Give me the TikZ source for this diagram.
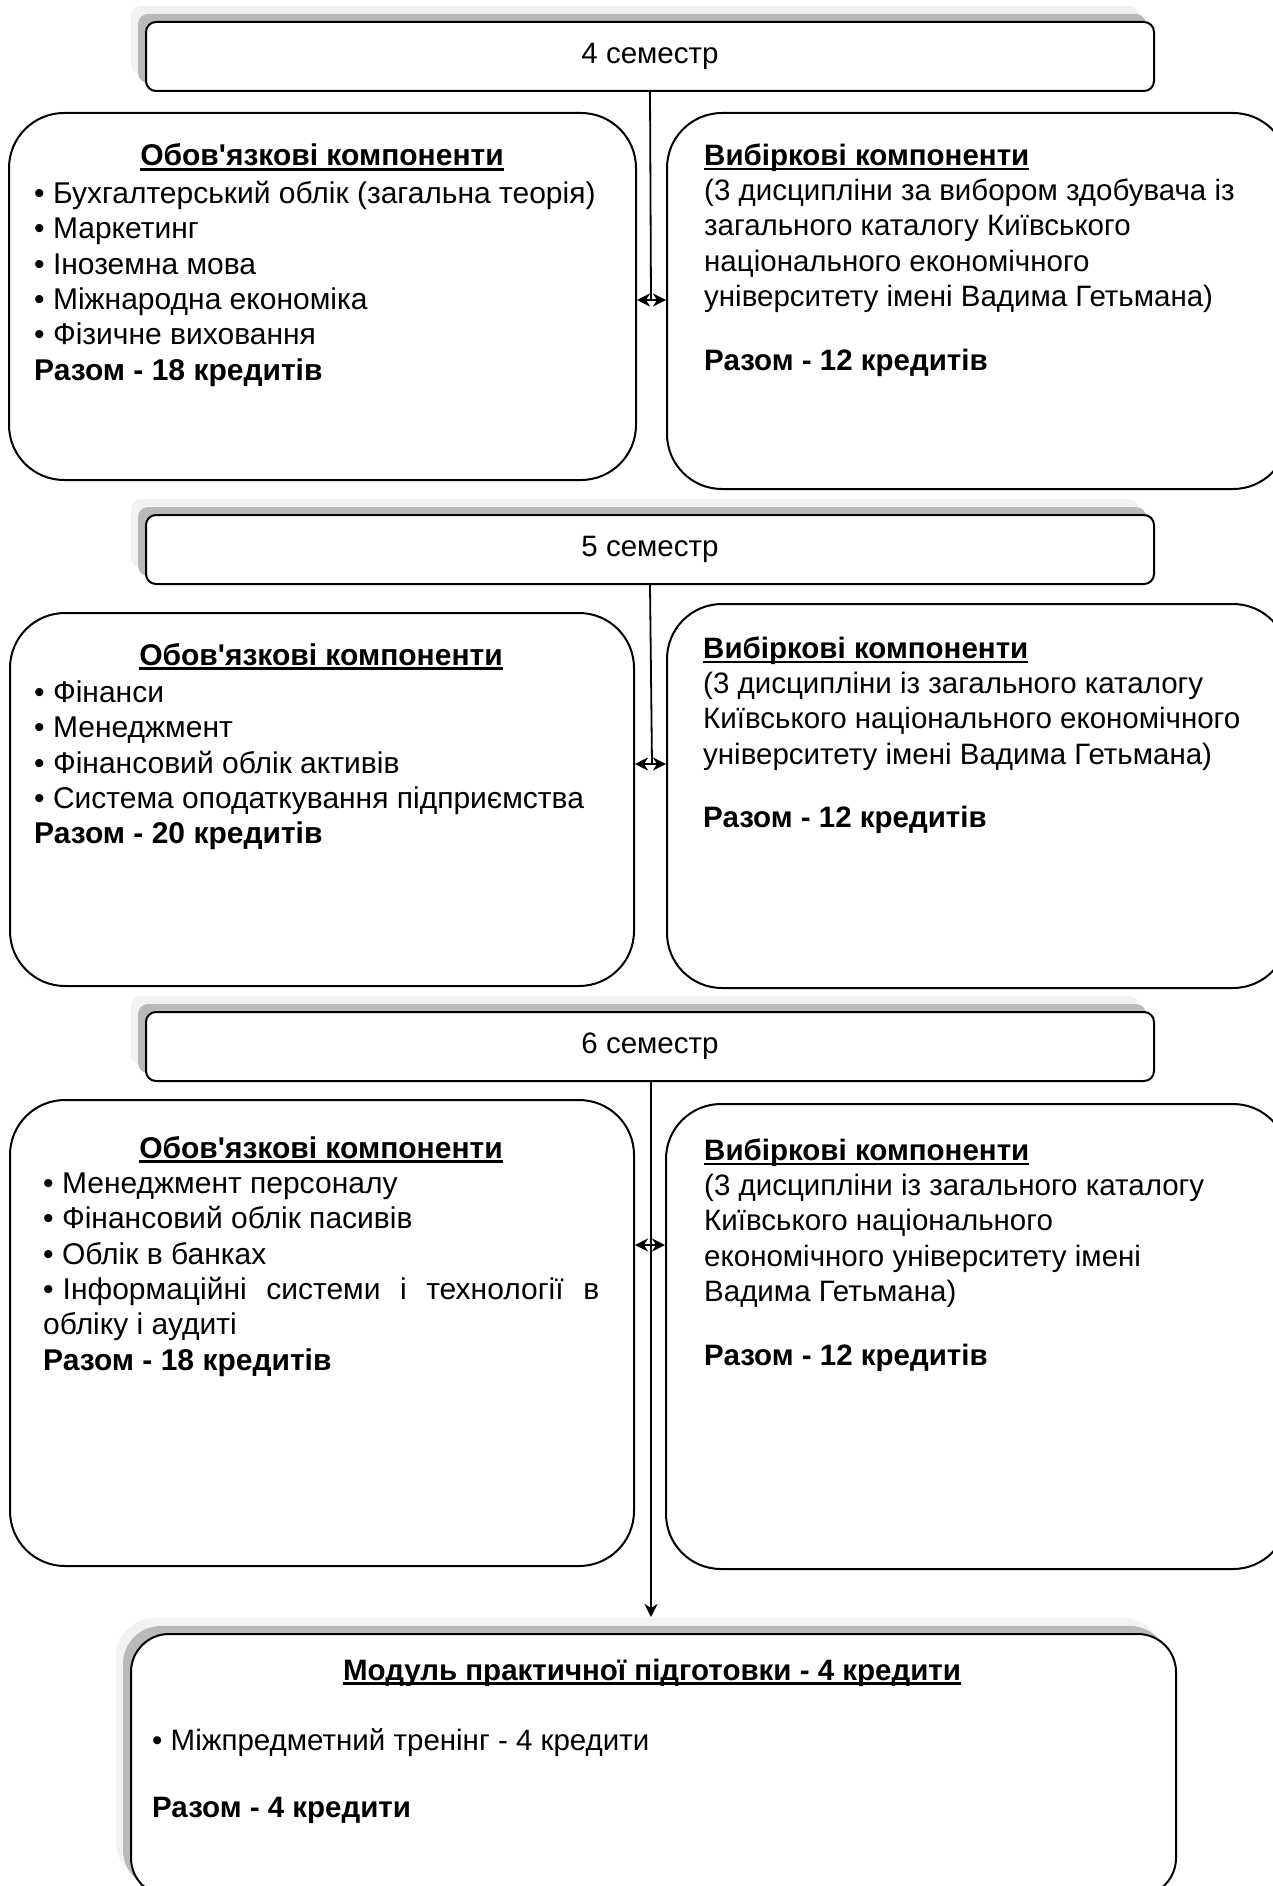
\documentclass[tikz,border=0pt]{standalone}
\usepackage{fontspec}
\setmainfont{Liberation Sans}[Ligatures=TeXOff]
\usetikzlibrary{arrows.meta,shadows}
\definecolor{shadedark}{HTML}{B9B9B9}
\definecolor{shadelight}{HTML}{F2F2F2}
\newcommand{\leftfont}{\fontsize{30}{35.4}\selectfont}
\newcommand{\rightfont}{\fontsize{29.5}{35.3}\selectfont}
\newcommand{\topstrut}{\rule{0pt}{28pt}}
\newsavebox{\headbox}
\newcommand{\heading}[1]{\sbox{\headbox}{\textbf{#1}}\rlap{\rule[-5pt]{\wd\headbox}{2.6pt}}\usebox{\headbox}}

\begin{document}
\begin{tikzpicture}[x=1pt,y=-1pt,
    twoshadow/.style={general shadow={fill=shadelight,shadow xshift=-15pt,shadow yshift=16pt},
                      general shadow={fill=shadedark,shadow xshift=-8pt,shadow yshift=8pt}},
    semester/.style={twoshadow,draw,fill=white,line width=2pt,rounded corners=10pt,anchor=north west,
                     inner sep=0pt,minimum width=1008pt,minimum height=69pt,font=\rightfont},
    compbox/.style={draw,line width=2pt,rounded corners=55pt,anchor=north west,inner sep=0pt},
    modbox/.style={compbox,twoshadow,fill=white,rounded corners=38pt},
    lefttext/.style={inner sep=0pt,align=left,anchor=north west,font=\leftfont},
    lefthead/.style={inner sep=0pt,anchor=base,font=\leftfont},
    righttext/.style={inner sep=0pt,align=left,anchor=north west,font=\rightfont},
    link/.style={line width=1.8pt},
    twoway/.style={line width=1.8pt,{Stealth[length=13pt,width=13pt,inset=4pt]}-{Stealth[length=13pt,width=13pt,inset=4pt]}}]
    \useasboundingbox (0,0) rectangle (1273,1886);
    \clip (0,0) rectangle (1273,1886);

    % semesters
    \node[semester] (sem1) at (145,21) {4 семестр};
    \node[semester] (sem2) at (145,514) {5 семестр};
    \node[semester] (sem3) at (145,1011) {6 семестр};

    % 4 semester
    \node[compbox,minimum width=627pt,minimum height=367pt] (left1) at (8,112) {};
    \node[compbox,minimum width=621pt,minimum height=376pt] (right1) at (666,112) {};
    \node[lefthead] (head1) at (322,166) {\heading{Обов'язкові компоненти}};
    \node[lefttext] (list1) at (34,175) {\topstrut\textbullet{} Бухгалтерський облік (загальна теорія)\\
        \textbullet{} Маркетинг\\ \textbullet{} Іноземна мова\\ \textbullet{} Міжнародна економіка\\
        \textbullet{} Фізичне виховання\\ \textbf{Разом - 18 кредитів}};
    \node[righttext] (elect1) at (704,137) {\topstrut\heading{Вибіркові компоненти}\\
        (3 дисципліни за вибором здобувача із\\ загального каталогу Київського\\
        національного економічного\\ університету імені Вадима Гетьмана)\\[28.5pt]
        \textbf{Разом - 12 кредитів}};

    % 5 semester
    \node[compbox,minimum width=624pt,minimum height=373pt] (left2) at (9,612) {};
    \node[compbox,minimum width=621pt,minimum height=384pt] (right2) at (666,603) {};
    \node[lefthead] (head2) at (321,665) {\heading{Обов'язкові компоненти}};
    \node[lefttext] (list2) at (34,674) {\topstrut\textbullet{} Фінанси\\ \textbullet{} Менеджмент\\
        \textbullet{} Фінансовий облік активів\\ \textbullet{} Система оподаткування підприємства\\
        \textbf{Разом - 20 кредитів}};
    \node[righttext] (elect2) at (703,630) {\topstrut\heading{Вибіркові компоненти}\\
        (3 дисципліни із загального каталогу\\ Київського національного економічного\\
        університету імені Вадима Гетьмана)\\[28pt]
        \textbf{Разом - 12 кредитів}};

    % 6 semester
    \node[compbox,minimum width=624pt,minimum height=466pt] (left3) at (9,1099) {};
    \node[compbox,minimum width=622pt,minimum height=465pt] (right3) at (665,1103) {};
    \node[lefthead] (head3) at (321,1158) {\heading{Обов'язкові компоненти}};
    \node[lefttext] (list3) at (43,1165) {\topstrut\textbullet{} Менеджмент персоналу\\
        \textbullet{} Фінансовий облік пасивів\\ \textbullet{} Облік в банках\\
        \makebox[556pt][s]{\textbullet\hspace{0.3em}Інформаційні системи і технології в}\\ обліку і аудиті\\
        \textbf{Разом - 18 кредитів}};
    \node[righttext] (elect3) at (704,1132) {\topstrut\heading{Вибіркові компоненти}\\
        (3 дисципліни із загального каталогу\\ Київського національного\\
        економічного університету імені\\ Вадима Гетьмана)\\[29pt]
        \textbf{Разом - 12 кредитів}};

    % practice module
    \node[modbox,minimum width=1045pt,minimum height=262pt] (module) at (130,1633) {};
    \node[lefthead,font=\rightfont] (modhead) at (652,1680) {\heading{Модуль практичної підготовки - 4 кредити}};
    \node[righttext] (modtext) at (152,1722) {\topstrut\textbullet{} Міжпредметний тренінг - 4 кредити\\[32pt]
        \textbf{Разом - 4 кредити}};

    % connectors
    \coordinate (j1) at (651,300);
    \coordinate (j2) at (652,764);
    \coordinate (j3) at (651,1245);
    \draw[link] (sem1.south) -- (j1);
    \draw[twoway] (left1.east |- j1) -- (right1.west |- j1);
    \draw[link] (sem2.south) -- (j2);
    \draw[twoway] (left2.east |- j2) -- (right2.west |- j2);
    \draw[link,-{Stealth[length=13pt,width=13pt,inset=4pt]}] (sem3.south -| j3) -- ([yshift=16pt]module.north -| j3);
    \draw[twoway] (left3.east |- j3) -- (right3.west |- j3);
\end{tikzpicture}
\end{document}
